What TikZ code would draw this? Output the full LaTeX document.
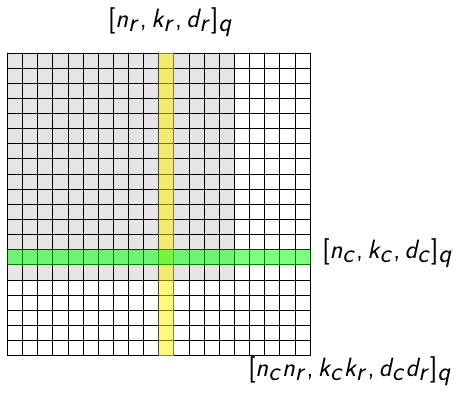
\documentclass[tikz,border=0pt]{standalone}
\usepackage{tikz}
\SetSymbolFont{operators}{normal}{OT1}{cmss}{m}{n}
\SetSymbolFont{letters}{normal}{OT1}{cmss}{m}{sl}
\mathcode`\,="602C
\DeclareMathSizes{33.5}{33.5}{23}{17}
\tikzset{code/.style={inner sep=0pt,font=\fontsize{33.5}{38}\selectfont}}

\begin{document}
\begin{tikzpicture}[line cap=round,x=.5cm,y=.5cm]
  \useasboundingbox (-.496,-2.512) rectangle (30.24,23.504);
  \fill[gray!20] (0,5) rectangle (15,20);
  \draw[line width=.8pt] (0,0) grid[step=1] (20,20);
  \draw[yellow!55!black,line width=.8pt,fill=yellow,opacity=.5] (10,0) rectangle (11,20);
  \draw[green!50!black,line width=.8pt,fill=green,opacity=.5] (0,6) rectangle (20,7);

  \node[code,anchor=base west] (rowcode) at (6.64,21.66) {$[n_r, k_r, d_r]_q$};
  \node[code,anchor=base west] (colcode) at (20.8,6.44) {$[n_c, k_c, d_c]_q$};
  \node[code,anchor=base west] (prodcode) at (15.9,-1.40) {$[n_c n_r, k_c k_r, d_c d_r]_q$};
\end{tikzpicture}
\end{document}
